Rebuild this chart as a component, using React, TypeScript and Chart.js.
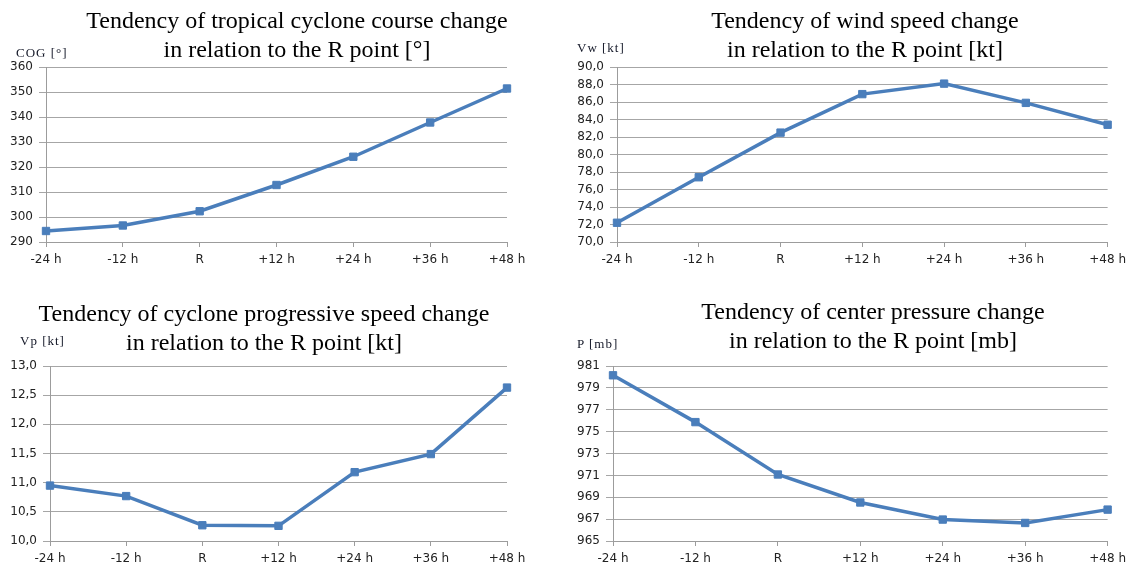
import React, { useEffect, useRef } from 'react';
import { Chart, registerables } from 'chart.js';

Chart.register(...registerables);

// Forecast steps relative to the reference point R
const HOURS = ['-24 h', '-12 h', 'R', '+12 h', '+24 h', '+36 h', '+48 h'];

// Course over ground [°]
const COURSE = [294.4, 296.6, 302.3, 312.8, 324.1, 337.8, 351.4];
// Maximum wind speed [kt]
const WIND_SPEED = [72.2, 77.4, 82.5, 86.9, 88.1, 85.9, 83.4];
// Progressive (translation) speed [kt]
const PROGRESSIVE_SPEED = [10.95, 10.77, 10.27, 10.26, 11.18, 11.49, 12.63];
// Center pressure [mb]
const PRESSURE = [980.15, 975.87, 971.08, 968.52, 966.96, 966.65, 967.87];

const LINE_COLOR = '#4a7ebb';
const GRID_COLOR = '#a6a6a6';
const AXIS_COLOR = '#9c9c9c';
const TICK_COLOR = '#222222';
const SERIF = '"Liberation Serif", "Times New Roman", serif';
const SANS = '"DejaVu Sans", Verdana, sans-serif';

const fmtInt = (v: number) => String(Math.round(v));
const fmtOneDecimal = (v: number) => v.toFixed(1).replace('.', ',');

type PanelProps = {
  values: number[];
  yMin: number;
  yMax: number;
  yStep: number;
  format: (v: number) => string;
  left: number;
  top: number;
  width: number;
  height: number;
  yAxisWidth: number;
  padTop: number;
  padRight: number;
  xAxisHeight: number;
};

function LinePanel(p: PanelProps) {
  const ref = useRef<HTMLCanvasElement | null>(null);

  useEffect(() => {
    if (!ref.current) return;
    const chart = new Chart(ref.current, {
      type: 'line',
      data: {
        labels: HOURS,
        datasets: [
          {
            data: p.values,
            borderColor: LINE_COLOR,
            backgroundColor: LINE_COLOR,
            borderWidth: 3.5,
            tension: 0,
            pointStyle: 'rect',
            pointRadius: 5.2,
            pointBorderWidth: 1,
            pointBackgroundColor: LINE_COLOR,
            pointBorderColor: LINE_COLOR,
            clip: false,
          },
        ],
      },
      options: {
        responsive: false,
        animation: false,
        devicePixelRatio: 1,
        layout: { padding: { left: 0, top: p.padTop, right: p.padRight, bottom: 0 } },
        plugins: {
          legend: { display: false },
          tooltip: { enabled: false },
          title: { display: false },
        },
        scales: {
          x: {
            offset: false,
            grid: {
              drawOnChartArea: false,
              drawTicks: true,
              tickLength: 5,
              color: AXIS_COLOR,
            },
            border: { display: true, color: AXIS_COLOR, width: 1 },
            ticks: {
              color: TICK_COLOR,
              padding: 1,
              maxRotation: 0,
              autoSkip: false,
              font: { family: SANS, size: 12, lineHeight: 2.0 },
            },
            afterFit: (scale: any) => {
              scale.height = p.xAxisHeight;
            },
          },
          y: {
            min: p.yMin,
            max: p.yMax,
            grid: {
              color: GRID_COLOR,
              drawTicks: true,
              tickLength: 7,
            },
            border: { display: true, color: AXIS_COLOR, width: 1 },
            ticks: {
              stepSize: p.yStep,
              color: TICK_COLOR,
              padding: 6,
              font: { family: SANS, size: 12 },
              callback: (v: any) => p.format(Number(v)),
            },
            afterFit: (scale: any) => {
              scale.width = p.yAxisWidth;
            },
          },
        },
      },
    });
    return () => chart.destroy();
  }, []);

  return (
    <canvas
      ref={ref}
      width={p.width}
      height={p.height}
      style={{ position: 'absolute', left: p.left, top: p.top, width: p.width, height: p.height }}
    />
  );
}

function Title({ lines, centerX, top }: { lines: string[]; centerX: number; top: number }) {
  return (
    <div
      style={{
        position: 'absolute',
        left: centerX - 290,
        top,
        width: 580,
        textAlign: 'center',
        fontFamily: SERIF,
        fontSize: 24,
        lineHeight: '29px',
        color: '#000',
        whiteSpace: 'nowrap',
      }}
    >
      {lines.map((l) => (
        <div key={l}>{l}</div>
      ))}
    </div>
  );
}

function AxisName({ text, left, top }: { text: string; left: number; top: number }) {
  return (
    <div
      style={{
        position: 'absolute',
        left,
        top,
        fontFamily: SERIF,
        fontSize: 13,
        lineHeight: '15px',
        letterSpacing: 1,
        color: '#141828',
        whiteSpace: 'nowrap',
      }}
    >
      {text}
    </div>
  );
}

export default function App() {
  return (
    <div
      style={{
        position: 'absolute',
        left: 0,
        top: 0,
        width: 1127,
        height: 564,
        background: '#fff',
        overflow: 'hidden',
      }}
    >
      <LinePanel
        values={COURSE}
        yMin={290}
        yMax={360}
        yStep={10}
        format={fmtInt}
        left={0}
        top={0}
        width={563}
        height={282}
        yAxisWidth={46}
        padTop={67}
        padRight={56}
        xAxisHeight={40}
      />
      <LinePanel
        values={WIND_SPEED}
        yMin={70}
        yMax={90}
        yStep={2}
        format={fmtOneDecimal}
        left={563}
        top={0}
        width={564}
        height={282}
        yAxisWidth={54}
        padTop={67}
        padRight={19}
        xAxisHeight={40}
      />
      <LinePanel
        values={PROGRESSIVE_SPEED}
        yMin={10}
        yMax={13}
        yStep={0.5}
        format={fmtOneDecimal}
        left={0}
        top={282}
        width={563}
        height={282}
        yAxisWidth={50}
        padTop={84}
        padRight={56}
        xAxisHeight={23}
      />
      <LinePanel
        values={PRESSURE}
        yMin={965}
        yMax={981}
        yStep={2}
        format={fmtInt}
        left={563}
        top={282}
        width={564}
        height={282}
        yAxisWidth={50}
        padTop={84}
        padRight={19}
        xAxisHeight={23}
      />

      <Title
        lines={['Tendency of tropical cyclone course change', 'in relation to the R point [°]']}
        centerX={297}
        top={6}
      />
      <Title
        lines={['Tendency of wind speed change', 'in relation to the R point [kt]']}
        centerX={865}
        top={6}
      />
      <Title
        lines={['Tendency of cyclone progressive speed change', 'in relation to the R point [kt]']}
        centerX={264}
        top={299}
      />
      <Title
        lines={['Tendency of center pressure change', 'in relation to the R point [mb]']}
        centerX={873}
        top={297}
      />

      <AxisName text="COG [°]" left={16} top={45} />
      <AxisName text="Vw [kt]" left={577} top={40} />
      <AxisName text="Vp [kt]" left={20} top={333} />
      <AxisName text="P [mb]" left={577} top={336} />
    </div>
  );
}
